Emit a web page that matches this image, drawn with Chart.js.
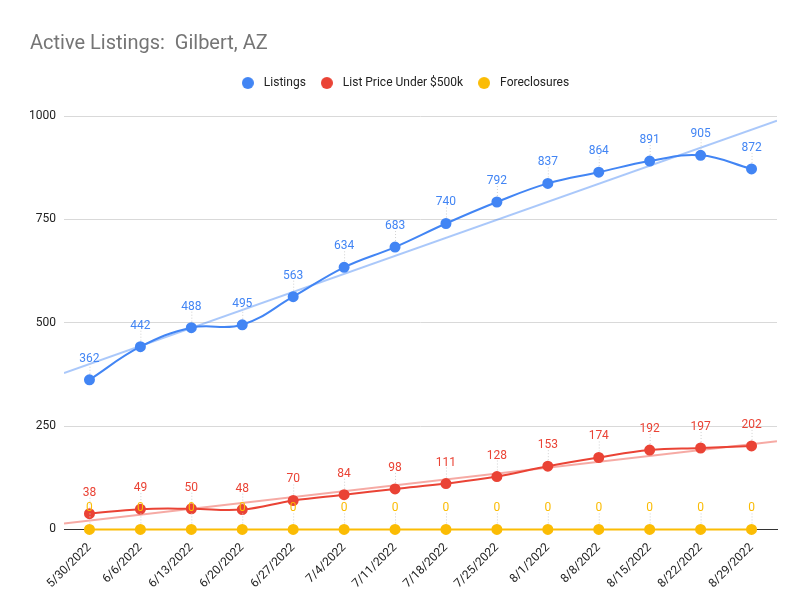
<!DOCTYPE html>
<html>
<head>
<meta charset="utf-8">
<script src="https://cdn.jsdelivr.net/npm/chart.js@4.4.1/dist/chart.umd.min.js"></script>
<style>
  html, body { margin: 0; padding: 0; background: #fff; }
  #wrap { width: 807px; height: 608px; }
</style>
</head>
<body>
<div id="wrap"><canvas id="chart"></canvas></div>
<script>
// Weekly dates
const weeks = ['5/30/2022', '6/6/2022', '6/13/2022', '6/20/2022', '6/27/2022', '7/4/2022', '7/11/2022',
  '7/18/2022', '7/25/2022', '8/1/2022', '8/8/2022', '8/15/2022', '8/22/2022', '8/29/2022'];

const listings = [362, 442, 488, 495, 563, 634, 683, 740, 792, 837, 864, 891, 905, 872];
const underFiveHundred = [38, 49, 50, 48, 70, 84, 98, 111, 128, 153, 174, 192, 197, 202];
const foreclosures = [0, 0, 0, 0, 0, 0, 0, 0, 0, 0, 0, 0, 0, 0];

const yTicks = [0, 250, 500, 750, 1000];

const Colors = {
  blue: '#4285f4',
  red: '#ea4335',
  yellow: '#fbbc04',
  blueTrend: 'rgba(66, 133, 244, 0.45)',
  redTrend: 'rgba(234, 67, 53, 0.45)',
  grid: '#d9d9d9',
  text: '#222222'
};

// least squares fit on index -> value
function linearFit(values) {
  const n = values.length;
  let sx = 0, sy = 0, sxy = 0, sxx = 0;
  values.forEach((v, i) => { sx += i; sy += v; sxy += i * v; sxx += i * i; });
  const slope = (n * sxy - sx * sy) / (n * sxx - sx * sx);
  return { slope, intercept: (sy - slope * sx) / n };
}

const trends = [
  { fit: linearFit(listings), color: Colors.blueTrend },
  { fit: linearFit(underFiveHundred), color: Colors.redTrend }
];

// small filled circle used as legend marker
function dot(color) {
  const c = document.createElement('canvas');
  c.width = 12;
  c.height = 12;
  const g = c.getContext('2d');
  g.fillStyle = color;
  g.beginPath();
  g.arc(6, 6, 6, 0, Math.PI * 2);
  g.fill();
  return c;
}
const legendDots = [dot(Colors.blue), dot(Colors.red), dot(Colors.yellow)];

// extra room under the legend
const legendGap = {
  id: 'legendGap',
  beforeInit(chart) {
    const fit = chart.legend.fit;
    chart.legend.fit = function () {
      fit.call(this);
      this.height += 17;
    };
  }
};

// trendlines span the whole plot width
const trendPlugin = {
  id: 'trend',
  beforeDatasetsDraw(chart) {
    const { ctx, chartArea, scales } = chart;
    const x0 = -0.5, x1 = weeks.length - 0.5;
    ctx.save();
    ctx.beginPath();
    ctx.rect(chartArea.left, chartArea.top, chartArea.right - chartArea.left, chartArea.bottom - chartArea.top);
    ctx.clip();
    trends.forEach(t => {
      ctx.beginPath();
      ctx.strokeStyle = t.color;
      ctx.lineWidth = 2;
      ctx.moveTo(scales.x.getPixelForValue(x0), scales.y.getPixelForValue(t.fit.intercept + t.fit.slope * x0));
      ctx.lineTo(scales.x.getPixelForValue(x1), scales.y.getPixelForValue(t.fit.intercept + t.fit.slope * x1));
      ctx.stroke();
    });
    ctx.restore();
  }
};

// value labels above each point with a dotted leader
const labelPlugin = {
  id: 'pointLabels',
  afterDatasetsDraw(chart) {
    const { ctx } = chart;
    ctx.save();
    ctx.font = '12px Roboto';
    ctx.textAlign = 'center';
    ctx.textBaseline = 'alphabetic';
    chart.data.datasets.forEach((ds, di) => {
      const meta = chart.getDatasetMeta(di);
      meta.data.forEach((pt, i) => {
        ctx.strokeStyle = '#d0d0d0';
        ctx.lineWidth = 1;
        ctx.setLineDash([1, 2]);
        ctx.beginPath();
        ctx.moveTo(pt.x + 0.5, pt.y - 16);
        ctx.lineTo(pt.x + 0.5, pt.y - 5);
        ctx.stroke();
        ctx.setLineDash([]);
        ctx.fillStyle = ds.borderColor;
        ctx.fillText(String(ds.data[i]), pt.x, pt.y - 18);
      });
    });
    ctx.restore();
  }
};

function series(label, data, color) {
  return {
    label: label,
    data: data,
    borderColor: color,
    backgroundColor: color,
    borderWidth: 2,
    pointRadius: 4.5,
    pointHoverRadius: 5,
    tension: 0.4,
    clip: false
  };
}

new Chart(document.getElementById('chart'), {
  type: 'line',
  data: {
    labels: weeks,
    datasets: [
      series('Listings', listings, Colors.blue),
      series('List Price Under $500k', underFiveHundred, Colors.red),
      series('Foreclosures', foreclosures, Colors.yellow)
    ]
  },
  options: {
    responsive: true,
    maintainAspectRatio: false,
    animation: false,
    layout: { padding: { left: 30, right: 30, top: 32, bottom: 14 } },
    plugins: {
      title: {
        display: true,
        text: 'Active Listings:  Gilbert, AZ',
        align: 'start',
        color: '#757575',
        font: { family: 'Roboto', size: 20, weight: 'normal' },
        padding: { top: 0, bottom: 10 }
      },
      legend: {
        position: 'top',
        labels: {
          color: Colors.text,
          font: { family: 'Roboto', size: 12 },
          usePointStyle: true,
          pointStyleWidth: 20,
          boxHeight: 9,
          padding: 11,
          generateLabels(chart) {
            const items = Chart.defaults.plugins.legend.labels.generateLabels(chart);
            items.forEach((it, i) => { it.pointStyle = legendDots[i]; });
            return items;
          }
        }
      },
      tooltip: { enabled: false }
    },
    scales: {
      x: {
        offset: true,
        grid: { display: false },
        border: { color: '#333333' },
        ticks: {
          color: Colors.text,
          font: { family: 'Roboto', size: 12 },
          maxRotation: 45,
          minRotation: 45,
          autoSkip: false
        }
      },
      y: {
        min: 0,
        max: 1000,
        afterBuildTicks(axis) { axis.ticks = yTicks.map(v => ({ value: v })); },
        afterFit(axis) { axis.width = 34; },
        grid: { color: Colors.grid, drawTicks: false },
        border: { display: false },
        ticks: {
          color: Colors.text,
          font: { family: 'Roboto', size: 12 },
          padding: 8,
          callback: v => String(v)
        }
      }
    }
  },
  plugins: [legendGap, trendPlugin, labelPlugin]
});
</script>
</body>
</html>
